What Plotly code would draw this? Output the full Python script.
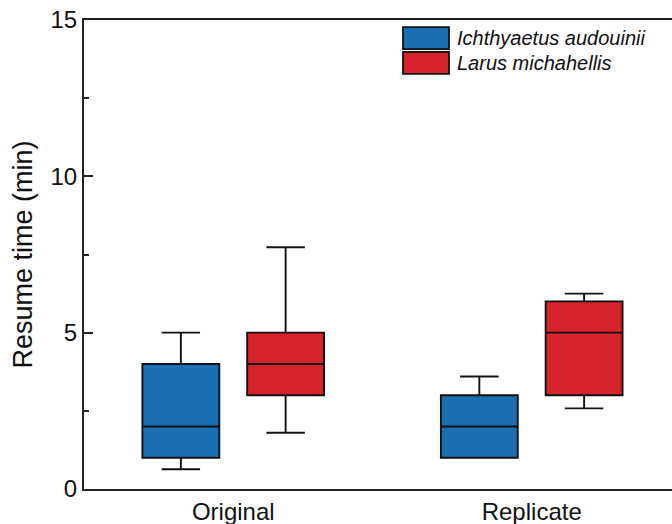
import plotly.graph_objects as go

categories = ["Original", "Replicate"]
species = ["Ichthyaetus audouinii", "Larus michahellis"]
colors = ["#1a6fb3", "#d6222b"]

# box statistics per species, per category
q1 = [[1.0, 1.0], [3.0, 3.0]]
median = [[2.0, 2.0], [4.0, 5.0]]
q3 = [[4.0, 3.0], [5.0, 6.0]]
lowerfence = [[0.63, 1.0], [1.8, 2.58]]
upperfence = [[5.0, 3.6], [7.73, 6.25]]

y_ticks = [0, 5, 10, 15]

fig = go.Figure()
for i, name in enumerate(species):
    fig.add_trace(go.Box(
        x=categories,
        q1=q1[i], median=median[i], q3=q3[i],
        lowerfence=lowerfence[i], upperfence=upperfence[i],
        name=name,
        fillcolor=colors[i],
        line=dict(color="#111111", width=1.9),
        whiskerwidth=0.5,
        boxpoints=False,
        showlegend=False,
    ))

FONT = "Liberation Sans, Arial, sans-serif"

# custom legend
legend_shapes = []
legend_ann = []
sw_x0, sw_x1 = 0.5425, 0.6207
rows = [(0.985, 0.938), (0.932, 0.885)]
for i, name in enumerate(species):
    y1, y0 = rows[i]
    legend_shapes.append(dict(type="rect", xref="paper", yref="paper",
                              x0=sw_x0, x1=sw_x1, y0=y0, y1=y1,
                              fillcolor=colors[i],
                              line=dict(color="#111111", width=1.8)))
    legend_ann.append(dict(xref="paper", yref="paper", x=0.631, y=(y0 + y1) / 2,
                           xanchor="left", yanchor="middle", showarrow=False,
                           text="<i>" + name + "</i>",
                           font=dict(family=FONT, size=20, color="#111111")))

fig.update_layout(
    width=672, height=524,
    margin=dict(l=84, r=0, t=20, b=35),
    paper_bgcolor="white", plot_bgcolor="white",
    boxmode="group", boxgap=0.298, boxgroupgap=0.266,
    font=dict(family=FONT, color="#111111"),
    shapes=legend_shapes,
    annotations=legend_ann,
    xaxis=dict(
        type="category", range=[-0.5, 1.47],
        showline=True, linecolor="#222222", linewidth=2, mirror=True,
        ticks="", showgrid=False, zeroline=False,
        tickfont=dict(family=FONT, size=24, color="#111111"),
    ),
    yaxis=dict(
        range=[0, 15], tickvals=y_ticks,
        showline=True, linecolor="#222222", linewidth=2,
        ticks="inside", ticklen=9, tickwidth=1.5, tickcolor="#222222",
        minor=dict(ticks="inside", dtick=2.5, ticklen=5, tickwidth=1.5, tickcolor="#222222"),
        showgrid=False, zeroline=False,
        tickfont=dict(family=FONT, size=24, color="#111111"),
        title=dict(text="Resume time (min)", font=dict(family=FONT, size=27, color="#111111"),
                   standoff=10),
    ),
)

fig.write_html("out.html")
